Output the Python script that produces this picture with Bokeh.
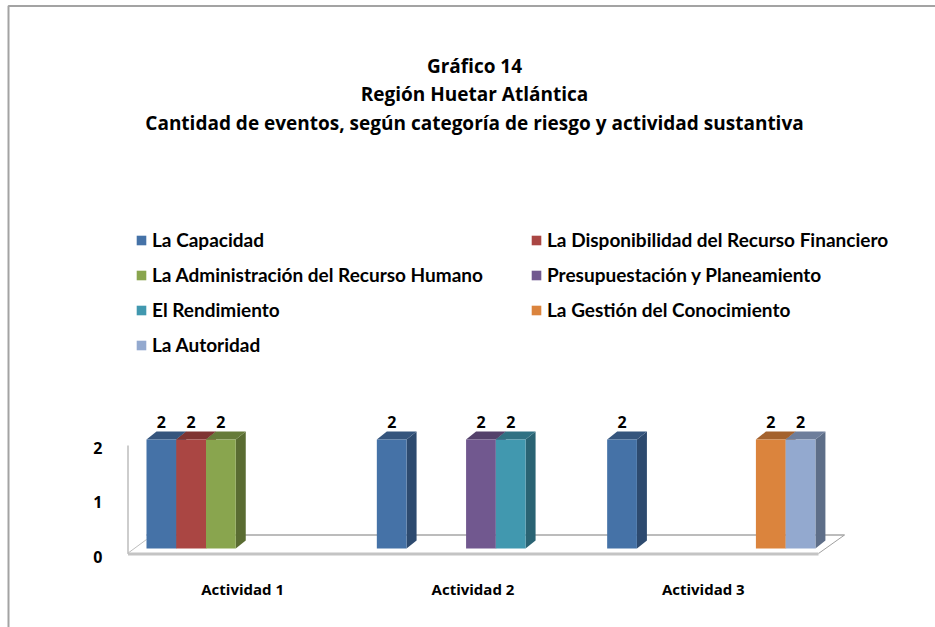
from bokeh.embed import file_html
from bokeh.resources import INLINE
from bokeh.models import Range1d, FixedTicker, Label, Legend, LegendItem
from bokeh.plotting import figure
from bokeh.core.properties import value

title_lines = ["Gráfico 14", "Región Huetar Atlántica",
               "Cantidad de eventos, según categoría de riesgo y actividad sustantiva"]
categories = ["Actividad 1", "Actividad 2", "Actividad 3"]
series_names = ["La Capacidad", "La Disponibilidad del Recurso Financiero",
                "La Administración del Recurso Humano", "Presupuestación y Planeamiento",
                "El Rendimiento", "La Gestión del Conocimiento", "La Autoridad"]
capacidad = [2, 2, 2]
disponibilidad = [2, None, None]
administracion = [2, None, None]
presupuestacion = [None, 2, None]
rendimiento = [None, 2, None]
gestion = [None, None, 2]
autoridad = [None, None, 2]
series_values = [capacidad, disponibilidad, administracion, presupuestacion,
                 rendimiento, gestion, autoridad]
front_colors = ["#4572A7", "#AA4643", "#89A54E", "#71588F", "#4198AF", "#DB843D", "#93A9CF"]
top_colors = ["#35557D", "#7F3432", "#667B3A", "#54416B", "#307183", "#A4622D", "#6E7E9B"]
side_colors = ["#2D4A6F", "#702D2C", "#5A6C32", "#4A395E", "#2A6373", "#905628", "#5E6E88"]
y_ticks = [0, 1, 2]

# layout, in page pixels
W, H = 935, 627
AX_X = 127
CAT_PX, UNIT_PX = 230.33, 54.5         # one category, one value unit
Y0 = 556                               # pixel row of value 0
SHIFT_X, SHIFT_Y = 19 / CAT_PX, 8 / UNIT_PX    # bar plane, seen in oblique view
DX, DY = 10 / CAT_PX, 8 / UNIT_PX      # bar depth
SLOT = 29.75 / CAT_PX                  # one bar's width


def X(px):
    return (px - AX_X) / CAT_PX


def Y(py):
    return (Y0 - py) / UNIT_PX


p = figure(width=W, height=H, output_backend="svg", toolbar_location=None,
           x_range=Range1d(X(0), X(W)), y_range=Range1d(Y(H), Y(0)),
           min_border=0, margin=0)
p.outline_line_color = None
p.grid.visible = False
p.background_fill_color = "white"

# chart border
p.line([X(8), X(8), X(W)], [Y(H), Y(5.5), Y(5.5)], line_color="#a3a3a3", line_width=2)

# floor and wall of the oblique box
back_y = Y(534.5)
p.line([X(146), X(844)], [back_y, back_y], line_color="#a6a6a6", line_width=1.5)
p.line([X(818), X(844)], [Y(553), back_y], line_color="#a0a0a0", line_width=1)
p.line([0, X(146)], [Y(553), Y(539)], line_color="#bdbdbd", line_width=1)
p.line([X(127.5), X(818)], [Y(553.5), Y(553.5)], line_color="#c4c4c4", line_width=3)
p.line([X(127.5), X(127.5)], [Y(553), Y(445)], line_color="#bdbdbd", line_width=1.5)

# bars
items = []
lab_x, lab_y = [], []
for s, (name, vals) in enumerate(zip(series_names, series_values)):
    left, right, tops = [], [], []
    for c, v in enumerate(vals):
        if v is None:
            continue
        x0 = c + SHIFT_X + s * SLOT
        left.append(x0)
        right.append(x0 + SLOT)
        tops.append(v)
        lab_x.append(x0 + SLOT / 2)
        lab_y.append(v)
    base = SHIFT_Y
    side_xs = [[r, r + DX, r + DX, r] for r in right]
    side_ys = [[base, base + DY, t + SHIFT_Y + DY, t + SHIFT_Y] for t in tops]
    top_xs = [[l, l + DX, r + DX, r] for l, r in zip(left, right)]
    top_ys = [[t + SHIFT_Y, t + SHIFT_Y + DY, t + SHIFT_Y + DY, t + SHIFT_Y] for t in tops]
    p.patches(side_xs, side_ys, fill_color=side_colors[s], line_color=None)
    p.patches(top_xs, top_ys, fill_color=top_colors[s], line_color=None)
    r = p.quad(left=left, right=right, bottom=base,
               top=[t + SHIFT_Y for t in tops], fill_color=front_colors[s], line_color=None)
    items.append(LegendItem(label=name, renderers=[r]))

# data labels
p.text(lab_x, lab_y, text=["2"] * len(lab_x), y_offset=-26,
       text_font=value("Open Sans"), text_font_style="bold", text_font_size="16px",
       text_align="center", text_baseline="middle", text_color="black")

# title
for line, py in zip(title_lines, [65, 93, 122]):
    p.add_layout(Label(x=X(474), y=Y(py), text=line, text_font="Open Sans", text_font_style="bold",
                       text_font_size="19px", text_align="center", text_baseline="middle",
                       text_color="black"))

# legend
legend = Legend(items=items, orientation="horizontal", ncols=2, location=(135, H - 356),
                background_fill_alpha=0, border_line_color=None, padding=0, margin=0,
                glyph_width=12, glyph_height=12, label_standoff=5, spacing=12,
                label_width=366, label_height=20, label_text_font="Lato",
                label_text_font_style="bold", label_text_font_size="19px",
                label_text_color="black")
p.add_layout(legend, "center")

# axes, fixed on the box's front edges
p.yaxis.fixed_location = 0
p.yaxis.ticker = FixedTicker(ticks=y_ticks)
p.yaxis.axis_line_color = None
p.yaxis.major_tick_line_color = None
p.yaxis.minor_tick_line_color = None
p.yaxis.major_label_standoff = 19
p.yaxis.major_label_text_font = "Open Sans"
p.yaxis.major_label_text_font_style = "bold"
p.yaxis.major_label_text_font_size = "16px"
p.yaxis.major_label_text_color = "black"

p.xaxis.fixed_location = Y(558)
p.xaxis.ticker = FixedTicker(ticks=[0.5, 1.5, 2.5])
p.xaxis.major_label_overrides = {0.5: categories[0], 1.5: categories[1], 2.5: categories[2]}
p.xaxis.axis_line_color = None
p.xaxis.major_tick_line_color = None
p.xaxis.minor_tick_line_color = None
p.xaxis.major_label_standoff = 14
p.xaxis.major_label_text_font = "Open Sans"
p.xaxis.major_label_text_font_style = "bold"
p.xaxis.major_label_text_font_size = "15px"
p.xaxis.major_label_text_color = "black"

open("out.html", "w").write(file_html(p, INLINE))
